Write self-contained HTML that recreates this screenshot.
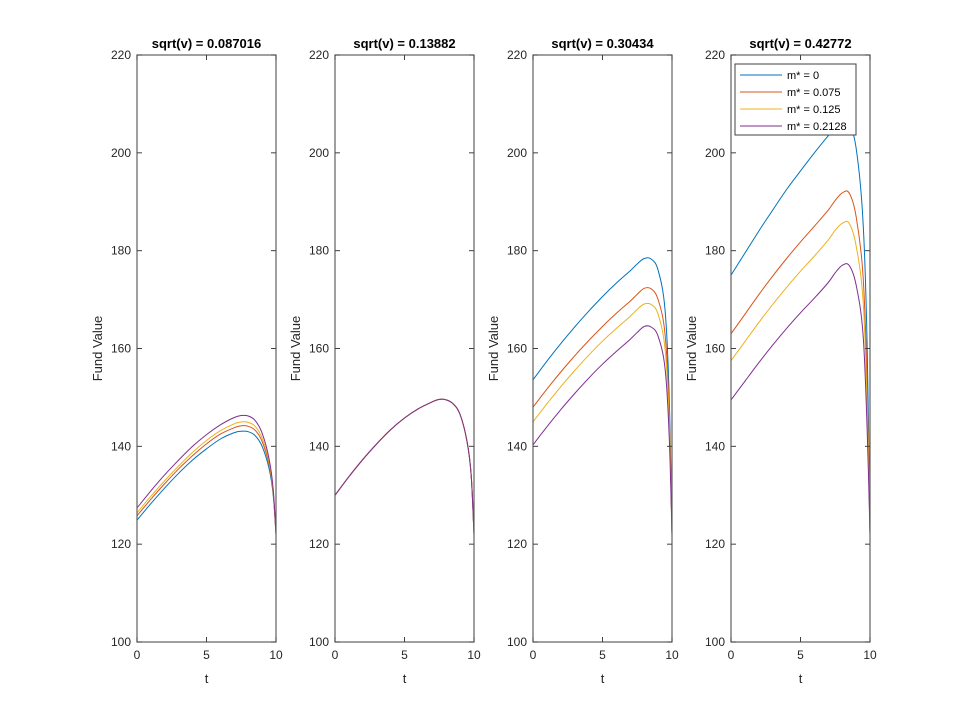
<!DOCTYPE html>
<html><head><meta charset="utf-8"><style>
html,body{margin:0;padding:0;background:#fff;}
svg{display:block;font-family:"Liberation Sans",Arial,sans-serif;}
</style></head><body>
<svg id="chart" width="962" height="721" viewBox="0 0 962 721"></svg>
<script>
const tPoints = [0,1,2,3,4,5,6,7,7.5,8,8.5,9,9.5,9.8,10];
const panelTitles = ["sqrt(v) = 0.087016","sqrt(v) = 0.13882","sqrt(v) = 0.30434","sqrt(v) = 0.42772"];
const seriesLabels = ["m* = 0","m* = 0.075","m* = 0.125","m* = 0.2128"];
const yTicks = [100,120,140,160,180,200,220];
const xTicks = [0,5,10];
const p1Blue   = [124.9,128.3,131.5,134.5,137.2,139.5,141.5,142.8,143.1,143.0,142.2,140.0,135.5,130,122];
const p1Red    = [125.8,129.2,132.4,135.4,138.1,140.5,142.5,143.8,144.2,144.1,143.3,141.0,136.3,130.5,122];
const p1Yellow = [126.4,129.8,133.0,136.0,138.8,141.2,143.2,144.6,145.0,144.9,144.1,141.7,136.8,130.8,122];
const p1Purple = [127.4,130.9,134.2,137.2,140.0,142.4,144.4,145.9,146.3,146.2,145.3,142.7,137.5,131.2,122];
const p2Blue   = [130,133.8,137.3,140.5,143.4,145.8,147.7,149.1,149.6,149.5,148.7,146.5,141,134,122];
const p2Red    = [130,133.8,137.3,140.5,143.4,145.8,147.7,149.1,149.6,149.5,148.7,146.5,141,134,122];
const p2Yellow = [130,133.8,137.3,140.5,143.4,145.8,147.7,149.1,149.6,149.5,148.7,146.5,141,134,122];
const p2Purple = [130,133.8,137.3,140.5,143.4,145.8,147.7,149.1,149.6,149.5,148.7,146.5,141,134,122];
const p3Blue   = [153.6,157.4,161.0,164.4,167.6,170.6,173.4,175.9,177.3,178.4,178.3,176,168,150,122];
const p3Red    = [148.0,151.7,155.2,158.5,161.6,164.5,167.2,169.7,171.1,172.3,172.2,170,163,147,122];
const p3Yellow = [145.0,148.7,152.2,155.5,158.6,161.5,164.1,166.6,168.0,169.1,169.0,167,160,145,122];
const p3Purple = [140.3,144.0,147.5,150.8,153.9,156.8,159.4,161.9,163.3,164.5,164.4,162.5,156,142,122];
const p4Blue   = [175,179.5,184,188.3,192.5,196.3,200,203.5,205,206,205.5,201,186,160,122];
const p4Red    = [163,167.0,171.0,174.8,178.4,181.8,185.0,188.3,190.3,191.8,191.8,187,175,152,122];
const p4Yellow = [157.5,161.4,165.3,169.0,172.5,175.8,178.9,182.2,184.2,185.6,185.6,181,170,148,122];
const p4Purple = [149.5,153.3,157.1,160.7,164.1,167.3,170.3,173.5,175.5,177.0,177.0,173,163,143,122];
const panelData = [[p1Blue,p1Red,p1Yellow,p1Purple],[p2Blue,p2Red,p2Yellow,p2Purple],[p3Blue,p3Red,p3Yellow,p3Purple],[p4Blue,p4Red,p4Yellow,p4Purple]];
const colors = ["#0072BD","#D95319","#EDB120","#7E2F8E"];
const panelLeft = [137,335,533,731];
const W = 139, TOP = 55, BOT = 642;
const NS = "http://www.w3.org/2000/svg";
const svg = document.getElementById('chart');
function mk(tag, attrs, parent){const e=document.createElementNS(NS,tag);for(const k in attrs)e.setAttribute(k,attrs[k]);(parent||svg).appendChild(e);return e;}
function yScale(v){return BOT-(v-100)/120*(BOT-TOP);}
function smoothPath(p){
  let d='M'+p[0][0].toFixed(1)+','+p[0][1].toFixed(1);
  for(let i=0;i<p.length-1;i++){
    const p0=p[Math.max(0,i-1)],p1=p[i],p2=p[i+1],p3=p[Math.min(p.length-1,i+2)];
    const c1x=p1[0]+(p2[0]-p0[0])/6,c1y=p1[1]+(p2[1]-p0[1])/6;
    const c2x=p2[0]-(p3[0]-p1[0])/6,c2y=p2[1]-(p3[1]-p1[1])/6;
    d+=' C'+c1x.toFixed(1)+','+c1y.toFixed(1)+' '+c2x.toFixed(1)+','+c2y.toFixed(1)+' '+p2[0].toFixed(1)+','+p2[1].toFixed(1);
  }
  return d;
}
panelData.forEach((series,pi)=>{
  const L = panelLeft[pi];
  const xScale = t => L + t/10*W;
  const g = mk('g',{});
  
  
  series.forEach((vals,si)=>{
    const pts = vals.map((v,i)=>[xScale(tPoints[i]),yScale(v)]);
    const pl = mk('path',{d:smoothPath(pts),fill:'none',stroke:colors[si],'stroke-width':1},g);
    
    
  });
  const box = mk('rect',{x:L,y:TOP,width:W,height:BOT-TOP,fill:'none',stroke:'#606060','stroke-width':1.2},g);
  
  
  yTicks.forEach(v=>{
    const y=yScale(v);
    mk('line',{x1:L,x2:L+5,y1:y,y2:y,stroke:'#404040'},g);
    mk('line',{x1:L+W-5,x2:L+W,y1:y,y2:y,stroke:'#404040'},g);
    const tx=mk('text',{x:L-6,y:y+4,'text-anchor':'end','font-size':12,fill:'#262626'},g);
    tx.textContent=v;
    
    
  });
  xTicks.forEach(t=>{
    const x=xScale(t);
    mk('line',{x1:x,x2:x,y1:BOT,y2:BOT-5,stroke:'#404040'},g);
    mk('line',{x1:x,x2:x,y1:TOP,y2:TOP+5,stroke:'#404040'},g);
    const tx=mk('text',{x:x,y:BOT+17,'text-anchor':'middle','font-size':12,fill:'#262626'},g);
    tx.textContent=t;
    
    
  });
  const title=mk('text',{x:L+W/2,y:48,'text-anchor':'middle','font-size':13,'font-weight':'bold',fill:'#000'},g);
  title.textContent=panelTitles[pi];
  
  
  const xl=mk('text',{x:L+W/2,y:683,'text-anchor':'middle','font-size':13,fill:'#262626'},g);
  xl.textContent='t';
  
  
  const yl=mk('text',{x:0,y:0,'text-anchor':'middle','font-size':13,fill:'#262626',transform:'translate('+(L-35)+','+((TOP+BOT)/2)+') rotate(-90)'},g);
  yl.textContent='Fund Value';
  
  
});
const lg = mk('g',{});


mk('rect',{x:735,y:64,width:121,height:71,fill:'#fff',stroke:'#404040','stroke-width':1},lg);
seriesLabels.forEach((lab,i)=>{
  const y=75+i*17;
  const ln=mk('line',{x1:740,x2:782,y1:y,y2:y,stroke:colors[i],'stroke-width':1},lg);
  
  
  const tx=mk('text',{x:787,y:y+4,'font-size':11,fill:'#000'},lg);
  tx.textContent=lab;
  
  
});
</script>
</body></html>
